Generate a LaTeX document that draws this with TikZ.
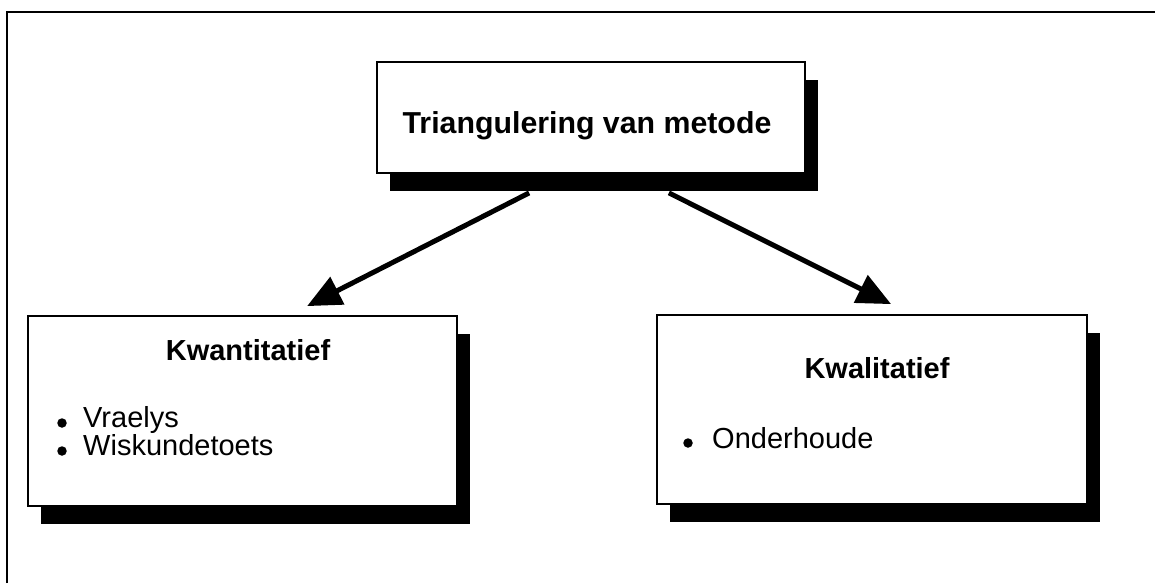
\documentclass[tikz,border=0pt]{standalone}
\usepackage{fontspec}
\setmainfont{Liberation Sans}
\usetikzlibrary{arrows.meta,shadows}

\begin{document}
\begin{tikzpicture}[x=1pt,y=-1pt,font=\fontsize{29}{34}\selectfont,
  kader/.style={draw,line width=1.8pt,fill=white,inner sep=0pt,
    drop shadow={shadow xshift=13pt,shadow yshift=-18pt,fill=black,opacity=1}},
  kop/.style={anchor=base,inner sep=0pt,font=\fontsize{29}{34}\selectfont\bfseries},
  punt/.style={circle,fill=black,inner sep=0pt,minimum size=9.5pt},
  item/.style={anchor=base west,inner sep=0pt},
  pyl/.style={-{Triangle[length=34pt,width=30pt]},line width=5pt}]
  \useasboundingbox (0,0) rectangle (1155,583);
  \draw[line width=1.8pt] (7,583) -- (7,12) -- (1155,12);

  % boxes
  \node[kader,minimum width=428pt,minimum height=111pt] (metode) at (591,117.5) {};
  \node[kop,font=\fontsize{30.3}{34}\selectfont\bfseries] (metodekop) at (587,133) {Triangulering van metode};

  \node[kader,minimum width=429pt,minimum height=190pt] (kwant) at (242.5,411) {};
  \node[kop] (kwantkop) at (248,360) {Kwantitatief};
  \node[punt] (p1) at (62,423) {};
  \node[item] (vraelys) at (83,427) {Vraelys};
  \node[punt] (p2) at (62,451) {};
  \node[item] (toets) at (83,455) {Wiskundetoets};

  \node[kader,minimum width=430pt,minimum height=189pt] (kwal) at (872,409.5) {};
  \node[kop] (kwalkop) at (877,378) {Kwalitatief};
  \node[punt] (p3) at (688,443) {};
  \node[item] (onderhoude) at (712,448) {Onderhoude};

  % arrows
  \draw[pyl] ([xshift=153pt,yshift=-19pt]metode.south west) -- ([xshift=280pt,yshift=9pt]kwant.north west);
  \draw[pyl] ([xshift=-137pt,yshift=-19pt]metode.south east) -- ([xshift=235pt,yshift=10pt]kwal.north west);
\end{tikzpicture}
\end{document}
